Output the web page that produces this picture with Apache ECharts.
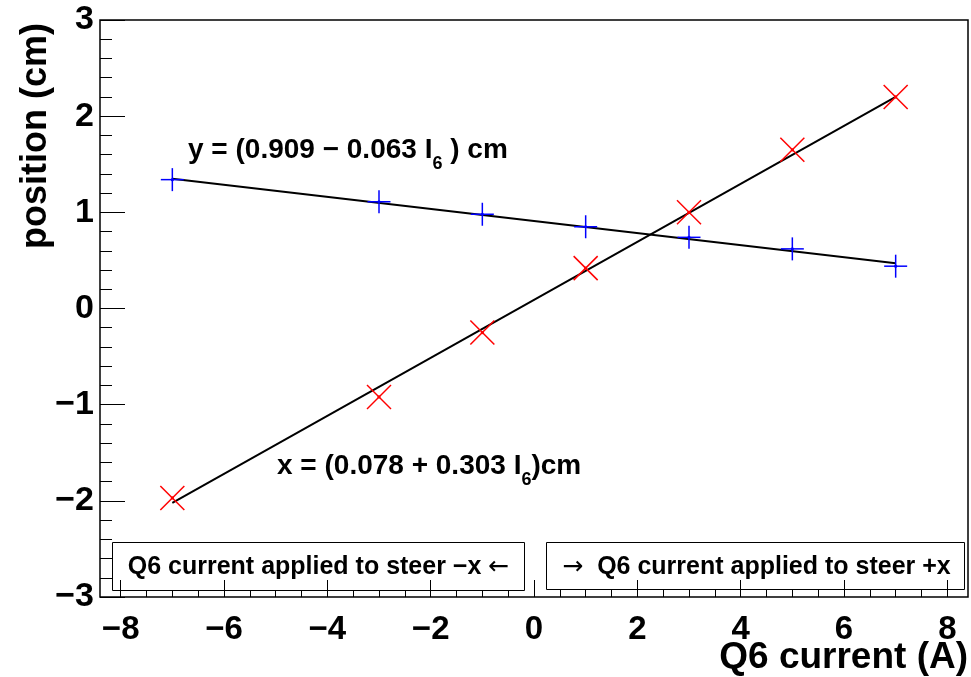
<!DOCTYPE html>
<html>
<head>
<meta charset="utf-8">
<script src="https://cdn.jsdelivr.net/npm/echarts@6/dist/echarts.min.js"></script>
<style>
  html, body { margin: 0; padding: 0; background: #fff; }
  #chart { width: 971px; height: 677px; }
</style>
</head>
<body>
<div id="chart"></div>
<script>
// measured points (Q6 current in A, beam position in cm)
const currents = [-7, -3, -1, 1, 3, 5, 7];
const yPos = [1.34, 1.11, 0.98, 0.85, 0.74, 0.62, 0.44];
const xPos = [-1.97, -0.92, -0.25, 0.42, 1.0, 1.65, 2.2];

// fit lines, end points
const fitI = [-7, 7];
const yFit = [1.35, 0.47];
const xFit = [-2.02, 2.2];

const FONT = "'Liberation Sans', Arial, Helvetica, sans-serif";
const minus = (v) => String(v).replace("-", "\u2212");

// frame goes from -8.4 to 8.4, ticks from -8 to 8
const frameL = 100, frameR = 3, frameT = 20, frameB = 80;
const pad = (0.4 / 16.8) * (971 - frameL - frameR);

const chart = echarts.init(document.getElementById("chart"));

const pairs = (xs, ys) => xs.map((x, i) => [x, ys[i]]);

const markerSeries = (data, kind, color) => ({
  type: "custom",
  xAxisIndex: 0,
  yAxisIndex: 0,
  data: data,
  z: 5,
  renderItem: function (params, api) {
    const p = api.coord([api.value(0), api.value(1)]);
    const s = kind === "plus" ? 11.5 : 12;
    const st = { stroke: color, lineWidth: 1.5 };
    let lines;
    if (kind === "plus") {
      lines = [
        { x1: p[0] - s, y1: p[1], x2: p[0] + s, y2: p[1] },
        { x1: p[0], y1: p[1] - s, x2: p[0], y2: p[1] + s },
      ];
    } else {
      lines = [
        { x1: p[0] - s, y1: p[1] - s, x2: p[0] + s, y2: p[1] + s },
        { x1: p[0] - s, y1: p[1] + s, x2: p[0] + s, y2: p[1] - s },
      ];
    }
    return {
      type: "group",
      children: lines
        .map((l) => ({ type: "line", shape: l, style: st }))
        .concat([{ type: "circle", shape: { cx: p[0], cy: p[1], r: 1.6 }, style: { fill: color } }]),
    };
  },
});

const eqRich = {
  n: { fontSize: 28, fontWeight: "bold", fontFamily: FONT, fill: "#000", lineHeight: 32, verticalAlign: "middle" },
  s: { fontSize: 18, fontWeight: "bold", fontFamily: FONT, fill: "#000", lineHeight: 46, verticalAlign: "bottom" },
};
const boxRich = {
  b: { fontSize: 25, fontWeight: "bold", fontFamily: FONT, fill: "#000" },
  a: { fontSize: 25, fontWeight: "normal", fontFamily: "'DejaVu Sans', sans-serif", fill: "#000" },
};

const option = {
  animation: false,
  backgroundColor: "#fff",
  textStyle: { fontFamily: FONT },
  grid: [
    {
      // data grid, -8..8 by -3..3
      left: frameL + pad,
      right: frameR + pad,
      top: frameT,
      bottom: frameB,
      containLabel: false,
      outerBoundsMode: "none",
      show: false,
    },
    {
      // frame only
      left: frameL,
      right: frameR,
      top: frameT,
      bottom: frameB,
      containLabel: false,
      outerBoundsMode: "none",
      show: true,
      borderColor: "#000",
      borderWidth: 1.5,
      backgroundColor: "transparent",
    },
  ],
  xAxis: [
    {
      type: "value",
      gridIndex: 0,
      min: -8,
      max: 8,
      interval: 2,
      axisLine: { show: false, onZero: false },
      splitLine: { show: false },
      axisTick: { show: true, inside: true, length: 17, lineStyle: { color: "#000", width: 1 } },
      minorTick: { show: true, splitNumber: 4, length: 7, lineStyle: { color: "#000", width: 1 } },
      axisLabel: {
        margin: 16,
        fontSize: 33,
        fontWeight: "bold",
        color: "#000",
        fontFamily: FONT,
        formatter: minus,
      },
    },
    { type: "value", gridIndex: 1, min: -8.4, max: 8.4, show: false },
  ],
  yAxis: [
    {
      type: "value",
      gridIndex: 0,
      min: -3,
      max: 3,
      interval: 1,
      offset: pad,
      axisLine: { show: false, onZero: false },
      splitLine: { show: false },
      axisTick: { show: true, inside: true, length: 25, lineStyle: { color: "#000", width: 1 } },
      minorTick: { show: true, splitNumber: 5, length: 12, lineStyle: { color: "#000", width: 1 } },
      axisLabel: {
        margin: 6,
        fontSize: 34,
        fontWeight: "bold",
        color: "#000",
        fontFamily: FONT,
        formatter: minus,
      },
    },
    { type: "value", gridIndex: 1, min: -3, max: 3, show: false },
  ],
  graphic: [
    {
      // y axis title
      type: "text",
      x: 36,
      y: 136,
      rotation: Math.PI / 2,
      z: 10,
      style: {
        text: "position (cm)",
        align: "center",
        verticalAlign: "middle",
        fontSize: 36,
        fontWeight: "bold",
        fontFamily: FONT,
        fill: "#000",
      },
    },
    {
      // x axis title
      type: "text",
      x: 968,
      y: 658,
      z: 10,
      style: {
        text: "Q6 current (A)",
        align: "right",
        verticalAlign: "middle",
        fontSize: 37,
        fontWeight: "bold",
        fontFamily: FONT,
        fill: "#000",
      },
    },
    {
      type: "text",
      left: 188,
      top: 136,
      z: 10,
      style: { text: "{n|y = (0.909 \u2212 0.063 I}{s|6}{n| ) cm}", rich: eqRich },
    },
    {
      type: "text",
      left: 277,
      top: 452,
      z: 10,
      style: { text: "{n|x = (0.078 + 0.303 I}{s|6}{n|)cm}", rich: eqRich },
    },
    {
      type: "group",
      left: 112,
      top: 542,
      z: 10,
      children: [
        { type: "rect", shape: { x: 0, y: 0, width: 412, height: 48 }, style: { fill: "#fff", stroke: "#000", lineWidth: 1 } },
        {
          type: "text",
          x: 206,
          y: 25,
          style: {
            text: "{b|Q6 current applied to steer \u2212x }{a|\u2190}",
            align: "center",
            verticalAlign: "middle",
            rich: boxRich,
          },
        },
      ],
    },
    {
      type: "group",
      left: 546,
      top: 542,
      z: 10,
      children: [
        { type: "rect", shape: { x: 0, y: 0, width: 418, height: 47 }, style: { fill: "#fff", stroke: "#000", lineWidth: 1 } },
        {
          type: "text",
          x: 210,
          y: 25,
          style: {
            text: "{a|\u2192}{b|  Q6 current applied to steer +x}",
            align: "center",
            verticalAlign: "middle",
            rich: boxRich,
          },
        },
      ],
    },
  ],
  series: [
    {
      type: "line",
      data: pairs(fitI, yFit),
      showSymbol: false,
      symbol: "none",
      lineStyle: { color: "#000", width: 2 },
      z: 3,
    },
    {
      type: "line",
      data: pairs(fitI, xFit),
      showSymbol: false,
      symbol: "none",
      lineStyle: { color: "#000", width: 2 },
      z: 3,
    },
    markerSeries(pairs(currents, yPos), "plus", "#0000ff"),
    markerSeries(pairs(currents, xPos), "cross", "#ff0000"),
  ],
};

chart.setOption(option);
</script>
</body>
</html>
